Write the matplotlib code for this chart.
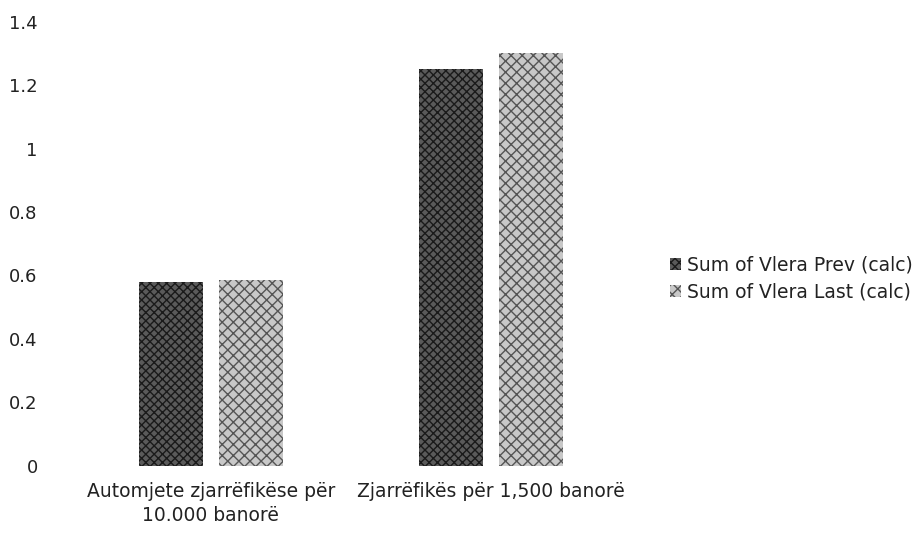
import numpy as np
import matplotlib.pyplot as plt

# data
categories = ["Automjete zjarrëfikëse për\n10.000 banorë", "Zjarrëfikës për 1,500 banorë"]
prev_values = [0.58, 1.25]
last_values = [0.585, 1.30]
series_names = ["Sum of Vlera Prev (calc)", "Sum of Vlera Last (calc)"]
yticks = [0, 0.2, 0.4, 0.6, 0.8, 1, 1.2, 1.4]
ytick_labels = ["0", "0.2", "0.4", "0.6", "0.8", "1", "1.2", "1.4"]

plt.rcParams["font.family"] = ["DejaVu Sans"]
plt.rcParams["hatch.linewidth"] = 1.0

fig = plt.figure(figsize=(9.22, 5.41), dpi=100)
ax = fig.add_axes([0.077, 0.139, 0.607, 0.821])

x = np.arange(len(categories))
width = 0.229
offset = 0.143
b1 = ax.bar(x - offset, prev_values, width, color="#5a5a5a", edgecolor="#1a1a1a",
            hatch="xxxx", linewidth=0, label=series_names[0])
b2 = ax.bar(x + offset, last_values, width, color="#c8c8c8", edgecolor="#555555",
            hatch="xxx", linewidth=0, label=series_names[1])

ax.set_xlim(-0.5, 1.5)
ax.set_ylim(0, 1.4)
ax.set_yticks(yticks)
ax.set_yticklabels(ytick_labels)
ax.set_xticks(x)
ax.set_xticklabels(categories, linespacing=1.3)
ax.tick_params(axis="y", length=0, pad=24, labelsize=13, colors="#222222")
ax.tick_params(axis="x", length=0, pad=12, labelsize=13.5, colors="#222222")
for s in ax.spines.values():
    s.set_visible(False)

fig.legend(handles=[b1, b2], labels=series_names, loc="center left",
           bbox_to_anchor=(0.708, 0.485), frameon=False, fontsize=13.5,
           handlelength=0.6, handleheight=0.6, handletextpad=0.3,
           labelspacing=0.45, labelcolor="#222222")

fig.savefig("out.png", dpi=100)
